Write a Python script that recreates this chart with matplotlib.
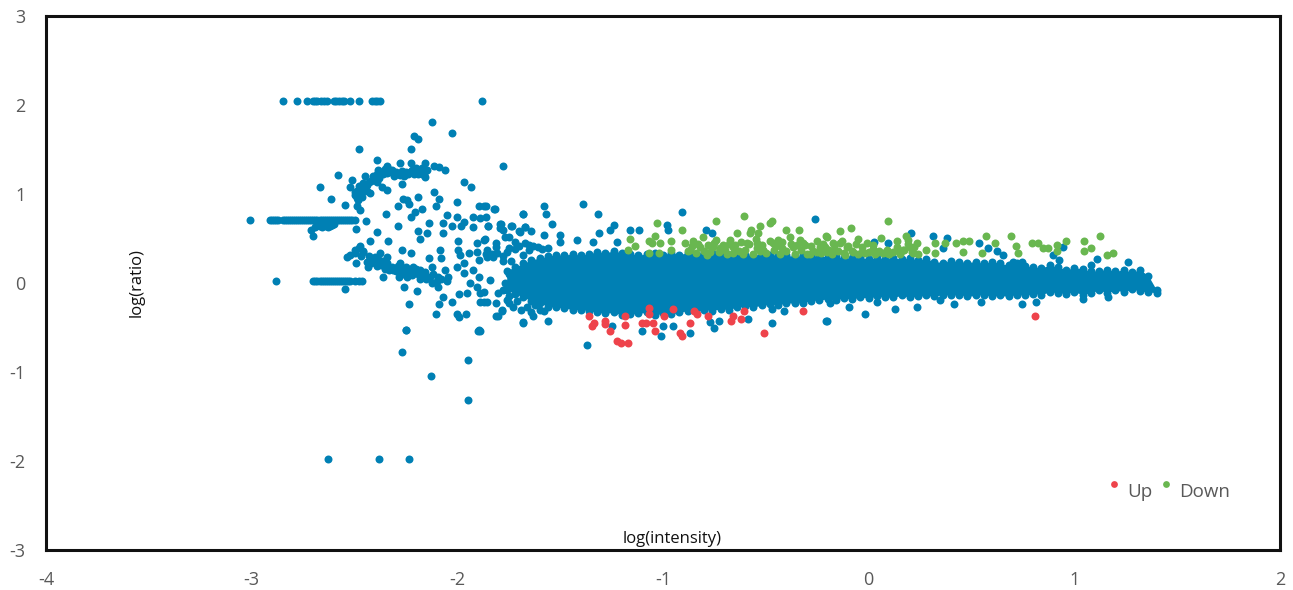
import matplotlib
matplotlib.use("Agg")
import matplotlib.pyplot as plt

plt.rcParams['font.family'] = ['Open Sans', 'DejaVu Sans']
plt.rcParams['axes.unicode_minus'] = False

BLUE, RED, GREEN = '#0080B4', '#EE434B', '#69B750'

# dense central mass: x station, upper and lower edge of the overplotted points
band_x = [-1.76,-1.72,-1.68,-1.64,-1.60,-1.56,-1.52,-1.48,-1.44,-1.40,-1.36,-1.32,-1.28,-1.24,-1.20,-1.16,-1.12,-1.08,-1.04,-1.00,
          -.96,-.92,-.88,-.84,-.80,-.76,-.72,-.68,-.64,-.60,-.56,-.52,-.48,-.44,-.40,-.36,-.32,-.28,-.24,-.20,
          -.16,-.12,-.08,-.04,0,.04,.08,.12,.16,.20,.24,.28,.32,.36,.40,.44,.48,.52,.56,.60,
          .64,.68,.72,.76,.80,.84,.88,.92,.96,1.00,1.04,1.08,1.12,1.16,1.20,1.24,1.28,1.32,1.36,1.40]
band_top = [.14,.18,.22,.26,.28,.30,.32,.31,.33,.31,.33,.35,.34,.36,.34,.33,.31,.33,.34,.32,
            .34,.32,.34,.33,.35,.34,.33,.32,.34,.32,.31,.33,.31,.32,.31,.30,.31,.30,.31,.29,
            .30,.28,.28,.29,.27,.28,.27,.28,.27,.28,.26,.27,.24,.23,.25,.24,.23,.24,.22,.24,
            .22,.20,.22,.19,.18,.17,.20,.18,.15,.17,.16,.13,.14,.15,.13,.15,.12,.15,.08,-.08]
band_bot = [-.08,-.12,-.16,-.20,-.22,-.27,-.27,-.28,-.30,-.30,-.31,-.33,-.34,-.33,-.36,-.35,-.34,-.33,-.36,-.34,
            -.35,-.33,-.31,-.32,-.30,-.31,-.29,-.30,-.27,-.26,-.27,-.25,-.24,-.25,-.22,-.23,-.22,-.20,-.19,-.18,
            -.19,-.17,-.18,-.16,-.17,-.15,-.16,-.16,-.14,-.16,-.15,-.14,-.15,-.13,-.14,-.13,-.15,-.14,-.13,-.15,
            -.14,-.15,-.13,-.14,-.12,-.13,-.10,-.11,-.12,-.10,-.13,-.11,-.08,-.11,-.08,-.10,-.07,-.09,-.10,-.11]

# horizontal runs of clipped values
run_top_x = [-2.846,-2.78,-2.732,-2.70,-2.69,-2.68,-2.665,-2.65,-2.635,-2.60,-2.59,-2.575,-2.56,-2.55,-2.52,-2.48,-2.416,-2.40,-2.39,-2.376,-1.88]
run_top_y = [2.04]*len(run_top_x)
run_mid_x = [-3.01,-2.91,-2.90,-2.89,-2.88,-2.87,-2.85,-2.84,-2.83,-2.82,-2.81,-2.80,-2.79,-2.78,-2.77,-2.76,-2.75,-2.74,-2.73,-2.72,-2.71,-2.70,
             -2.69,-2.68,-2.67,-2.66,-2.65,-2.64,-2.63,-2.62,-2.61,-2.60,-2.59,-2.58,-2.57,-2.56,-2.55,-2.54,-2.53,-2.52,-2.51,-2.50]
run_mid_y = [.71]*len(run_mid_x)
run_low_x = [-2.88,-2.70,-2.69,-2.68,-2.67,-2.66,-2.65,-2.64,-2.63,-2.62,-2.61,-2.60,-2.59,-2.58,-2.57,-2.56,-2.55,-2.54,-2.53,-2.52,-2.50,-2.48,-2.465]
run_low_y = [.02]*len(run_low_x)
clump_x = [-2.68,-2.67,-2.66,-2.65,-2.64,-2.63,-2.62,-2.61,-2.60]
clump_y = [.65,.64,.63,.65,.64,.63,.64,.65,.66]

# individually visible blue points
blue_x = [-2.125,-2.024,-2.21,-2.19,-2.225,-2.48,-1.78,-2.39,-2.28,-2.225,-2.157,-2.113,-2.09,-2.06,-2.58,-2.67,-2.614,-2.546,-2.513,-2.52,
          -2.497,-2.489,-2.473,-2.457,-2.44,-2.424,-2.481,-2.465,-2.449,-2.408,-2.392,-2.384,-2.343,-2.327,-2.303,-2.278,-2.254,-2.23,-2.197,-2.173,-2.157,-2.149,-2.27,-2.343,-2.368,-2.489,-2.473,
          -1.97,-1.935,-2.113,-2.09,-2.193,-2.265,-2.246,-2.233,-2.003,-2.103,-2.29,-2.17,-2.205,-2.225,-2.346,-1.893,-1.86,-1.815,-1.682,-2.052,-2.068,-2.003,-2.027,-1.98,-1.97,-1.922,-1.925,-1.89,-1.86,-1.85,-1.792,-1.735,-2.136,-2.29,-2.444,-2.492,-2.392,-2.193,-2.149,-2.181,-2.068,-1.792,-1.768,-1.695,-1.671,-2.335,-2.424,-1.995,-1.902,-1.865,-1.812,-2.084,-2.27,-2.225,-2.136,-2.081,-1.995,-1.943,-1.906,-1.987,-1.857,-1.808,-1.893,-1.857,-1.825,
          -2.535,-2.497,-2.473,-2.457,-2.492,-2.432,-2.408,-2.376,-2.343,-2.376,-2.343,-2.311,-2.278,-2.254,-2.214,-2.286,-2.36,-2.246,-2.181,-2.157,-2.124,-2.181,-2.133,-2.092,-2.06,-2.043,-2.003,-1.97,-1.97,-2.124,-2.092,-2.259,-2.197,-1.925,-1.897,-1.841,-1.938,-1.906,-2.068,-2.087,-2.027,-1.99,-1.951,-1.89,-1.89,-1.857,-2.235,-2.103,-2.003,-1.958,-1.99,-2.546,-2.70,-1.80,-1.784,-1.804,-1.76,-1.679,-2.249,-1.893,
          -2.27,-2.13,-1.95,-1.95,-1.90,-2.25,-2.63,-2.38,-2.235,-2.69,-2.71,
          -1.39,-1.58,-1.57,-1.68,-1.82,-1.87,-1.315,-.906,-.26,-1.54,-1.74,-1.79,-1.85,-1.24,-1.26,-1.31,-1.67,-1.64,-1.70,-1.78,-1.58,-1.50,-1.87,-1.75,-1.72,-1.65,-1.50,-1.42,-1.34,-1.225,-1.16,-1.115,-.98,-.975,-.79,-.76,-1.81,-1.56,-1.86,-1.83,-1.75,
          -1.37,-1.56,-1.68,-1.81,-1.785,-1.89,-1.63,-1.01,-1.10,-1.00,-.95,-.87,-.75,-.77,-.73,-.585,-.47,-.47,-.41,-.205,-1.25,-1.87,-1.87,-1.81,-1.78,-1.75,-1.77,-1.78,-1.75,-1.72,
          .204,.314,.379,.095,.027,.538,.581,.625,.363,.946,.925,1.259,1.108,1.08,.703,.744,.654,.897,-.208,-.018,-.094,.128,.236,.414,.547,.747,.813,-.188,.039,.346,1.043,1.165]
blue_y = [1.81,1.68,1.65,1.62,1.51,1.51,1.32,1.38,1.35,1.35,1.35,1.32,1.30,1.27,1.21,1.08,.94,.88,1.16,1.08,
          .99,1.03,1.06,1.08,1.03,1.01,.93,.97,1.20,1.18,1.14,1.27,1.31,1.27,1.23,1.21,1.23,1.25,1.27,1.23,1.19,1.27,1.11,1.05,1.08,.86,.82,
          1.13,1.075,1.02,.94,.97,.94,.93,.89,.91,.86,.86,.83,.80,.745,.775,.86,.86,.83,.775,.765,.67,.745,.64,.64,.69,.745,.63,.727,.745,.64,.66,.64,.67,.64,.70,.61,.577,.588,.558,.50,.558,.614,.52,.577,.633,.476,.468,.476,.453,.49,.446,.371,.367,.333,.285,.285,.371,.333,.352,.315,.371,.333,.26,.296,.296,
          .288,.371,.42,.352,.221,.184,.26,.333,.296,.221,.184,.146,.221,.146,.184,.071,.071,.071,.146,.128,.184,.041,.071,.071,.146,.071,.176,.221,.109,-.004,-.049,-.049,-.086,.146,.071,.034,-.004,-.041,-.154,-.236,-.21,-.123,-.116,-.116,-.21,-.21,-.236,-.348,-.348,-.348,-.386,-.071,.528,-.37,-.303,-.116,-.19,-.434,-.528,-.528,
          -.775,-1.05,-.865,-1.32,-.54,-.53,-1.98,-1.98,-1.98,.63,.60,
          .89,.86,.775,.775,.83,.86,.775,.80,.72,.66,.64,.66,.64,.65,.60,.56,.63,.58,.58,.60,.54,.54,.48,.52,.465,.43,.465,.48,.465,.46,.59,.59,.65,.59,.60,.56,.41,.39,.33,.33,.39,
          -.70,-.43,-.45,-.37,-.31,-.54,-.37,-.59,-.54,-.48,-.48,-.565,-.51,-.435,-.43,-.40,-.45,-.29,-.32,-.43,-.48,-.21,-.10,-.23,.25,.10,.0,-.08,-.15,.05,
          .56,.53,.51,.453,.465,.453,.39,.364,.39,.41,.259,.233,.266,.20,.233,.233,.315,.315,-.427,-.348,-.265,-.29,-.265,-.235,-.21,-.235,-.21,-.23,-.21,-.19,-.183,-.16]

# crowded arcs and the loose left end of the central mass
arc_up_x = [-2.50,-2.49,-2.48,-2.47,-2.46,-2.45,-2.44,-2.43,-2.42,-2.41,-2.40,-2.39,-2.38,-2.37,-2.36,-2.35,-2.34,-2.33,-2.32,-2.31,-2.30,-2.29,-2.27,-2.26,-2.25,-2.24,-2.22,-2.21,-2.20,-2.19,-2.18,-2.17,-2.16]
arc_up_y = [1.02,.96,1.09,1.00,1.12,1.04,1.10,1.14,1.15,1.20,1.16,1.23,1.18,1.25,1.22,1.28,1.24,1.25,1.27,1.20,1.25,1.22,1.26,1.20,1.25,1.22,1.27,1.23,1.29,1.22,1.26,1.29,1.22]
arc_lo_x = [-2.52,-2.50,-2.48,-2.47,-2.46,-2.44,-2.43,-2.42,-2.40,-2.39,-2.38,-2.37,-2.36,-2.35,-2.34,-2.33,-2.32,-2.30,-2.29,-2.28,-2.27,-2.26,-2.25,-2.24,-2.23,-2.22,-2.20,-2.19,-2.17,-2.15,-2.12,-2.10,-2.08,-2.05]
arc_lo_y = [.31,.34,.39,.30,.36,.24,.30,.22,.29,.19,.26,.20,.25,.16,.22,.15,.18,.13,.19,.11,.17,.10,.18,.12,.15,.09,.16,.10,.09,.05,.10,.02,.05,.02]
loose_x = [-1.78,-1.76,-1.75,-1.74,-1.73,-1.72,-1.71,-1.70,-1.69,-1.68,-1.67,-1.66,-1.65,-1.64,-1.63,-1.62,-1.61,-1.60,-1.59,-1.58]
loose_y = [.30,.35,-.22,.25,-.27,.38,-.20,.42,-.30,.32,.45,-.27,.37,-.33,.42,-.25,.40,-.30,.38,-.32]

up_x = [-1.36,-1.347,-1.335,-1.28,-1.28,-1.26,-1.185,-1.185,-1.225,-1.206,-1.17,-1.07,-1.07,-1.10,-1.085,-1.05,-1.04,-.995,-.95,-.917,-.91,-.87,-.85,-.836,-.78,-.67,-.66,-.62,-.607,-.507,-.318,.81]
up_y = [-.37,-.48,-.45,-.43,-.46,-.54,-.37,-.47,-.65,-.67,-.67,-.285,-.35,-.45,-.45,-.45,-.535,-.37,-.29,-.565,-.59,-.45,-.31,-.35,-.37,-.43,-.37,-.40,-.31,-.565,-.32,-.37]

down_x = [-1.03,-.74,-.606,-.47,-.48,-.53,-.906,-1.04,-1.16,-.64,-.574,-.537,-.40,-.34,-1.07,-1.055,-1.015,-.963,-1.136,-1.17,-1.07,-1.02,-.963,
          -.893,-.853,-.869,-.82,-.804,-.788,-.74,-.723,-.69,-.674,-.658,-.61,-.593,-.577,-.545,-.512,-.464,-.44,-.423,-.383,-.367,-.334,-.31,-.285,-.253,-.237,-.204,-.196,-.545,-.755,
          .094,-.085,-.14,-.208,-.05,.058,.18,.19,-.007,.02,.139,.233,.322,.37,.427,.46,.49,.57,.614,.69,.714,.724,.792,.825,.85,.873,.914,.914,.959,1.048,1.048,1.079,1.124,1.157,1.19,.322,.28,.46,.55,
          -.213,-.172,-.14,-.107,-.115,-.075,-.034,.047,.087,.136,.168,.217,.20,-.205,-.164,
          -.88,-.86,-.84,-.83,-.80,-.78,-.77,-.75,-.73,-.71,-.70,-.68,-.66,-.65,-.63,-.62,-.60,-.58,-.56,-.55,-.53,-.52,-.50,-.48,-.46,-.45,-.43,-.42,-.40,-.38,-.36,-.35,-.33,-.32,-.30,-.28,-.27,-.25,-.23,-.22,-.20,-.18,-.17,-.15,-.13,-.12,-.10,-.08,-.06,-.05,-.03,-.02,0.0,.02,.03,.05,.07,.09,.10,.12,.14,.15,.17,.19,.21,.22,.24]
down_y = [.67,.70,.75,.70,.67,.645,.59,.53,.50,.56,.59,.56,.59,.59,.475,.445,.445,.475,.42,.37,.34,.34,.37,
          .445,.475,.37,.41,.52,.315,.48,.39,.33,.48,.41,.33,.445,.56,.445,.37,.445,.48,.39,.52,.41,.48,.425,.33,.35,.41,.52,.37,.39,.41,
          .70,.615,.585,.53,.50,.51,.53,.48,.45,.43,.476,.453,.446,.446,.453,.476,.476,.53,.453,.53,.42,.34,.453,.453,.39,.39,.43,.364,.476,.476,.364,.39,.53,.315,.34,.34,.37,.35,.34,
          .41,.446,.446,.41,.315,.35,.35,.35,.334,.37,.37,.334,.41,.35,.37,
          .36,.42,.34,.44,.36,.43,.35,.45,.35,.43,.37,.44,.34,.43,.36,.46,.37,.44,.33,.50,.36,.43,.34,.47,.37,.42,.33,.46,.36,.44,.33,.43,.37,.45,.33,.42,.36,.47,.34,.44,.37,.33,.43,.36,.47,.34,.42,.36,.44,.33,.40,.34,.35,.38,.33,.36,.34,.37,.33,.35,.40,.33,.37,.44,.35,.40,.33]

x_ticks = [-4,-3,-2,-1,0,1,2]
y_ticks = [-3,-2,-1,0,1,2,3]

fig = plt.figure(figsize=(12.93,5.90), dpi=100)
ax = fig.add_axes([46/1293, 1-550/590, (1280-46)/1293, (550-16)/590])
ms = 33
ax.fill_between(band_x, band_bot, band_top, color=BLUE, lw=0, zorder=2)
for xs, ys in [(band_x, band_top), (band_x, band_bot), (run_top_x, run_top_y), (run_mid_x, run_mid_y),
               (run_low_x, run_low_y), (clump_x, clump_y), (blue_x, blue_y),
               (arc_up_x, arc_up_y), (arc_lo_x, arc_lo_y), (loose_x, loose_y)]:
    ax.scatter(xs, ys, s=ms, c=BLUE, lw=0, zorder=2)
up = ax.scatter(up_x, up_y, s=ms, c=RED, lw=0, zorder=4, label='Up')
down = ax.scatter(down_x, down_y, s=ms, c=GREEN, lw=0, zorder=3, label='Down')

ax.set_xlim(-4, 2)
ax.set_ylim(-3, 3)
ax.set_xticks(x_ticks)
ax.set_yticks(y_ticks)
ax.tick_params(length=0, labelsize=13, labelcolor='#595959')
ax.tick_params(axis='x', pad=15)
ax.tick_params(axis='y', pad=15)
for s in ax.spines.values():
    s.set_linewidth(2.2)
    s.set_color('#111111')

ax.text(-0.956, -2.88, 'log(intensity)', fontsize=12, color='#111111', ha='center', va='center')
ax.text(-3.557, 0.0, 'log(ratio)', fontsize=12, color='#111111', ha='center', va='center', rotation=90)

leg = ax.legend(handles=[up, down], ncol=2, frameon=False, loc='center', bbox_to_anchor=(0.9051, 0.109),
                fontsize=13.5, labelcolor='#595959', markerscale=0.85, handletextpad=-0.3, columnspacing=-0.25,
                borderpad=0, scatteryoffsets=[1.0])
fig.savefig('out.png', dpi=100)
